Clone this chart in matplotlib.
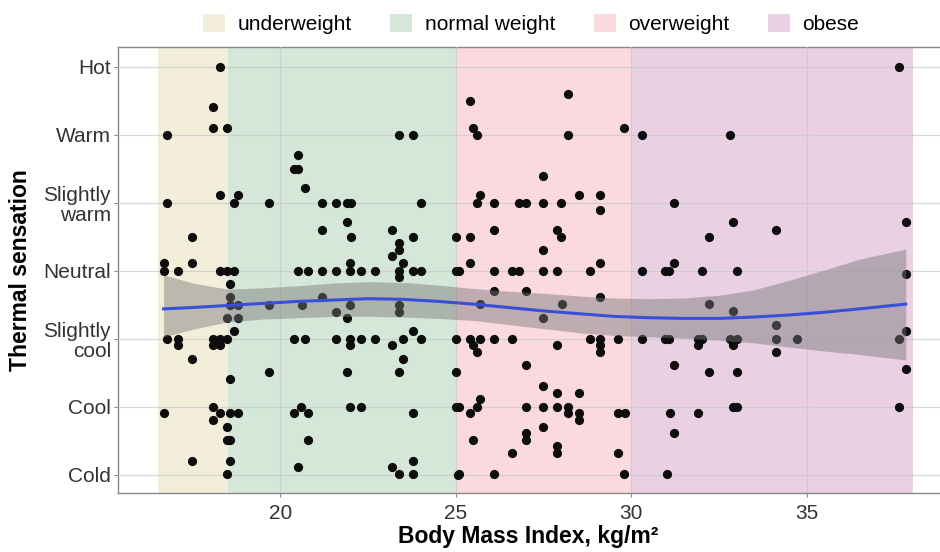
import matplotlib.pyplot as plt
from matplotlib.patches import Patch
import numpy as np

plt.rcParams['font.family'] = ['Liberation Sans', 'DejaVu Sans']

# thermal sensation levels, 1 = Cold ... 7 = Hot
levels = [1, 2, 3, 4, 5, 6, 7]
level_names = ['Cold', 'Cool', 'Slightly\ncool', 'Neutral', 'Slightly\nwarm', 'Warm', 'Hot']

# BMI classes
classes = ['underweight', 'normal weight', 'overweight', 'obese']
class_edges = [16.5, 18.5, 25.0, 30.0, 38.05]
class_colors = ['#F3EEDA', '#D4E7D8', '#FAD9DF', '#E9D0E3']

# survey answers (BMI, jittered sensation)
bmi = [18.27, 18.08, 18.08, 18.48, 16.78, 23.39, 23.79,
       20.49, 20.38, 20.49, 20.69,
       16.78, 18.27, 18.78, 18.67, 19.69, 21.18, 21.58, 21.89, 22.0, 24.0,
       25.0, 17.47, 21.18, 21.89, 22.0, 23.19, 23.79, 23.39, 23.39, 23.19, 23.5, 16.67, 17.47, 21.98,
       16.67, 17.07, 18.27, 18.48, 18.69, 20.49, 20.78, 21.18, 21.58, 21.98, 22.29, 22.69, 23.39, 23.39, 23.79, 24.0, 25.0,
       18.57, 18.57, 18.57, 18.78, 18.48, 18.78, 19.69, 20.62, 21.18, 21.98, 21.58, 21.89, 23.39, 23.39,
       18.69, 16.78, 17.07, 17.07, 18.08, 18.27, 18.48, 18.08, 18.27, 20.38, 20.69, 21.58, 21.98, 21.98, 22.29, 22.69, 23.19, 23.5, 23.79, 24.0, 25.0,
       17.47, 23.5, 18.57, 19.69, 21.89, 23.39, 25.0,
       16.67, 18.08, 18.27, 18.08, 18.57, 18.78, 18.48, 18.48, 18.57, 18.48, 18.57, 17.47,
       20.38, 20.58, 20.78, 20.78, 20.49, 21.98, 22.29, 23.79, 25.0,
       23.19, 23.39, 23.79, 23.79, 25.07,
       37.64, 25.41, 28.19, 25.49, 25.6, 28.19, 29.81, 30.31, 32.82,
       27.5, 25.69, 25.6, 26.1, 26.79, 27.0, 27.5, 28.0, 28.5, 29.11, 29.11, 31.22,
       32.91, 34.12, 37.83, 32.21, 25.41, 26.1, 27.9, 28.0, 27.5, 25.41, 29.11, 31.22,
       25.1, 26.1, 26.59, 26.79, 27.5, 27.9, 28.83, 30.31, 30.97, 31.09, 32.03, 33.03, 37.83,
       26.1, 27.0, 29.11, 25.69, 28.02, 27.5, 32.22, 32.91, 34.12, 34.12, 34.12, 34.73, 37.83, 37.64,
       25.41, 25.49, 25.6, 25.69, 26.1, 26.59, 27.9, 28.83, 29.11, 29.11, 29.11, 29.63, 30.31, 30.97, 31.09, 31.91, 31.91, 32.03, 32.82, 32.91, 33.03,
       27.0, 31.22, 32.22, 33.03, 37.83, 27.5, 27.9, 28.5,
       25.1, 25.41, 25.6, 25.69, 27.0, 27.5, 27.9, 28.21, 28.21, 28.5, 28.5, 29.63, 29.83, 31.1, 31.91, 32.91, 33.03, 37.64,
       27.5, 27.0, 27.0, 25.49, 31.22, 27.9, 27.9, 26.59, 29.63,
       25.1, 26.1, 29.81, 31.03]
sensation = [7.0, 6.40, 6.10, 6.10, 6.0, 6.0, 6.0,
             5.70, 5.50, 5.50, 5.21,
             5.0, 5.11, 5.11, 5.0, 5.0, 5.0, 5.0, 5.0, 5.0, 5.0,
             4.50, 4.50, 4.60, 4.71, 4.50, 4.60, 4.50, 4.41, 4.31, 4.21, 4.11, 4.11, 4.11, 4.11,
             4.0, 4.0, 4.0, 4.0, 4.0, 4.0, 4.0, 4.0, 4.0, 4.0, 4.0, 4.0, 4.0, 3.91, 4.0, 4.0, 4.0,
             3.81, 3.61, 3.50, 3.50, 3.30, 3.30, 3.5, 3.5, 3.61, 3.5, 3.40, 3.30, 3.5, 3.40,
             3.11, 3.0, 3.0, 2.91, 3.0, 3.0, 3.0, 2.91, 2.91, 3.0, 3.0, 3.0, 3.0, 2.91, 3.0, 3.0, 2.91, 3.0, 3.11, 3.0, 3.0,
             2.71, 2.71, 2.41, 2.51, 2.51, 2.51, 2.51,
             1.91, 2.0, 1.91, 1.81, 1.91, 1.91, 1.71, 1.51, 1.51, 1.02, 1.21, 1.21,
             1.91, 2.0, 1.91, 1.51, 1.12, 2.0, 2.0, 1.91, 2.0,
             1.12, 1.01, 1.01, 1.21, 1.0,
             7.0, 6.5, 6.60, 6.10, 6.0, 6.0, 6.10, 6.0, 6.0,
             5.40, 5.11, 5.0, 5.0, 5.0, 5.0, 5.0, 5.0, 5.11, 5.11, 4.90, 5.0,
             4.71, 4.60, 4.71, 4.50, 4.5, 4.6, 4.6, 4.5, 4.31, 4.11, 4.11, 4.11,
             4.0, 4.0, 4.0, 4.0, 4.0, 4.0, 4.0, 4.0, 4.0, 4.0, 4.0, 4.0, 3.96,
             3.71, 3.71, 3.61, 3.51, 3.51, 3.30, 3.51, 3.41, 3.21, 3.0, 2.81, 3.0, 3.11, 3.0,
             3.0, 2.91, 2.81, 3.0, 3.0, 3.0, 2.91, 3.0, 3.0, 2.91, 2.81, 3.0, 3.0, 3.0, 3.0, 3.0, 2.91, 3.0, 3.0, 2.91, 3.0,
             2.61, 2.61, 2.51, 2.51, 2.55, 2.31, 2.21, 2.21,
             2.0, 1.91, 2.0, 2.11, 2.0, 2.0, 2.0, 2.0, 1.91, 1.91, 1.81, 1.91, 1.91, 1.91, 1.91, 2.0, 2.0, 2.0,
             1.71, 1.61, 1.51, 1.51, 1.61, 1.42, 1.32, 1.32, 1.32,
             1.01, 1.01, 1.01, 1.01]

# smoother and its confidence band
fit_x = [16.67, 17.5, 18.5, 19.5, 20.5, 21.5, 22.5, 23.5, 24.5, 25.5, 26.5,
         27.5, 28.5, 29.5, 30.5, 31.5, 32.5, 33.5, 34.5, 35.5, 36.5, 37.83]
fit_y = [3.44, 3.46, 3.49, 3.52, 3.55, 3.57, 3.59, 3.58, 3.55, 3.51, 3.46,
         3.41, 3.37, 3.33, 3.31, 3.30, 3.30, 3.32, 3.35, 3.39, 3.44, 3.51]
fit_hi = [3.94, 3.82, 3.73, 3.75, 3.78, 3.82, 3.84, 3.83, 3.79, 3.74, 3.70,
          3.67, 3.63, 3.60, 3.59, 3.60, 3.64, 3.72, 3.86, 4.01, 4.17, 4.32]
fit_lo = [3.03, 3.14, 3.25, 3.29, 3.31, 3.33, 3.33, 3.32, 3.30, 3.27, 3.21,
          3.15, 3.09, 3.05, 3.03, 3.01, 2.98, 2.94, 2.88, 2.82, 2.77, 2.69]

fig = plt.figure(figsize=(9.4, 5.52), dpi=100)
# panel runs off the right edge of the picture, as in the original crop
ax = fig.add_axes([0.1255, 0.107, 0.8795, 0.808])

for i in range(len(classes)):
    ax.axvspan(class_edges[i], class_edges[i + 1], color=class_colors[i], lw=0, zorder=1)

ax.scatter(bmi, sensation, s=44, color='#0d0d0d', lw=0, zorder=3)
ax.fill_between(fit_x, fit_lo, fit_hi, color='#777777', alpha=0.45, lw=0, zorder=4)
ax.plot(fit_x, fit_y, color='#3a4fd8', lw=2.2, zorder=5)

ax.set_xlim(15.37, 38.94)
ax.set_ylim(0.735, 7.29)
ax.set_xticks([20, 25, 30, 35])
ax.set_yticks(levels)
ax.set_yticklabels(level_names, ha='right', linespacing=1.1)
ax.tick_params(labelsize=15, colors='#333333', length=3, width=0.8)
ax.tick_params(axis='both', color='#888888')
ax.tick_params(axis='x', pad=5)
ax.tick_params(axis='y', pad=2)

ax.set_axisbelow(False)
ax.grid(True, color='#c8c8c8', lw=0.9, alpha=0.7)
for s in ax.spines.values():
    s.set_color('#888888')
    s.set_linewidth(1.0)

ax.set_xlabel('Body Mass Index, kg/m²', fontsize=16.5, fontweight='bold')
ax.set_ylabel('Thermal sensation', fontsize=16.5, fontweight='bold')
ax.xaxis.set_label_coords(0.5 * 0.873 / 0.8795, -0.072)
ax.yaxis.set_label_coords(-0.105 * 0.873 / 0.8795, 0.5)

handles = [Patch(facecolor=c, edgecolor='none') for c in class_colors]
fig.legend(handles, classes, loc='center', bbox_to_anchor=(0.565, 0.957), ncol=4,
           frameon=False, fontsize=15, handlelength=1.05, handleheight=1.0,
           handletextpad=0.6, columnspacing=1.85, borderpad=0)

plt.savefig('out.png', dpi=100)
